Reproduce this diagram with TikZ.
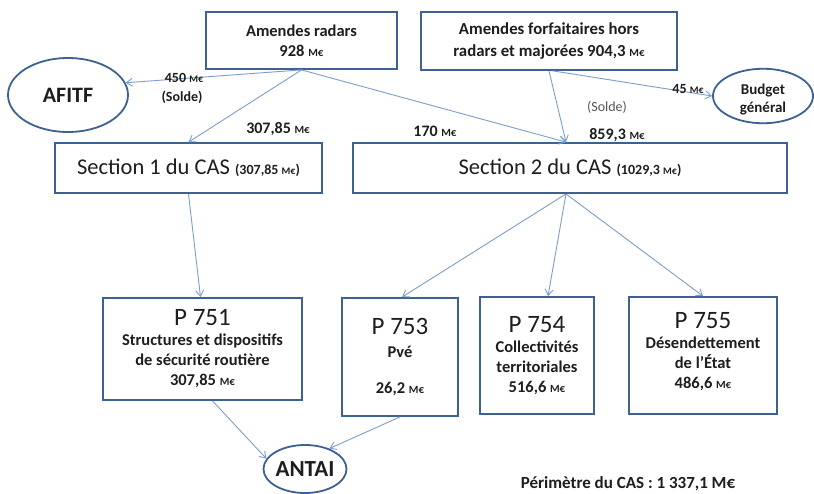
\documentclass[tikz,border=0pt]{standalone}
\usepackage{fontspec}
\setmainfont{Carlito}
\usetikzlibrary{arrows.meta,shapes.geometric,calc}
\definecolor{boxblue}{HTML}{3D6192}
\definecolor{arrblue}{HTML}{7D9DCB}
\definecolor{txt}{HTML}{1E1E1E}
\newcommand{\me}{{\fontsize{11}{12}\selectfont M€}}
\newcommand{\mes}{{\fontsize{10}{11}\selectfont M€}}
\tikzset{
  box/.style={draw=boxblue, line width=1.8pt, rectangle, inner sep=0pt, align=center, text=txt},
  oval/.style={draw=boxblue, line width=1.8pt, ellipse, inner sep=0pt, align=center, text=txt},
  flow/.style={draw=arrblue, line width=0.9pt, -{Straight Barb[length=6pt,width=8pt]}},
  lbl/.style={text=txt, font=\bfseries\fontsize{16}{18}\selectfont, inner sep=0pt},
  slbl/.style={text=txt, font=\bfseries\fontsize{14}{19}\selectfont, inner sep=0pt, align=center},
}
\begin{document}
\begin{tikzpicture}[x=1pt,y=-1pt]
\useasboundingbox[fill=white] (0,0) rectangle (814,493);

\node[box, minimum width=191pt, minimum height=57pt, font=\bfseries\fontsize{16.5}{20}\selectfont] (radars) at (301.5,40.5) {Amendes radars\\928 \me};
\node[box, minimum width=256pt, minimum height=58pt, font=\bfseries\fontsize{16.8}{22}\selectfont] (forf) at (549,41) {Amendes forfaitaires hors\\radars et majorées 904,3 \me};
\node[oval, minimum width=120pt, minimum height=74pt, font=\bfseries\fontsize{22}{24}\selectfont] (afitf) at (68,95) {AFITF};
\node[oval, minimum width=100pt, minimum height=54pt, font=\bfseries\fontsize{15}{18}\selectfont] (budget) at (763,96) {\rule{0pt}{18pt}Budget\\général};

\node[box, minimum width=267pt, minimum height=50pt, font=\fontsize{22.5}{25}\selectfont] (sec1) at (188.5,168) {Section 1 du CAS {\bfseries\fontsize{14}{16}\selectfont(307,85 \mes)}};
\node[box, minimum width=434pt, minimum height=50pt, font=\fontsize{22.5}{25}\selectfont] (sec2) at (570,168) {Section 2 du CAS {\bfseries\fontsize{14}{16}\selectfont(1029,3 \mes)}};

\node[box, minimum width=199pt, minimum height=102pt, font=\bfseries\fontsize{16.5}{20}\selectfont] (p751) at (202.5,349) {{\mdseries\fontsize{25}{24}\selectfont P 751}\\Structures et dispositifs\\de sécurité routière\\307,85 \me};
\node[box, minimum width=116pt, minimum height=118pt, font=\bfseries\fontsize{16.5}{20}\selectfont] (p753) at (400,357) {{\mdseries\fontsize{25}{24}\selectfont P 753}\\[3pt]Pvé\\[16pt]26,2 \me};
\node[box, minimum width=114pt, minimum height=117pt, font=\bfseries\fontsize{16.5}{20}\selectfont] (p754) at (537,355.5) {{\mdseries\fontsize{25}{24}\selectfont P 754}\\Collectivités\\territoriales\\516,6 \me};
\node[box, minimum width=148pt, minimum height=117pt, font=\bfseries\fontsize{16.5}{20}\selectfont] (p755) at (703,355.5) {{\mdseries\fontsize{25}{24}\selectfont P 755}\\Désendettement\\de l’État\\486,6 \me\rule[-11pt]{0pt}{11pt}};

\node[oval, minimum width=76pt, minimum height=48pt, font=\bfseries\fontsize{23}{24}\selectfont] (antai) at (305,469) {ANTAI};

% connectors
\draw[flow] (radars.south) -- (afitf.12);
\draw[flow] (radars.south) -- (sec1.north);
\draw[flow] (radars.south) -- ($(sec2.north)+(-4,0)$);
\draw[flow] (forf.south) -- ($(sec2.north)+(-4,0)$);
\draw[flow] ($(forf.south)+(4,0)$) -- (budget.west);
\draw[flow] (sec1.south) -- ($(p751.north)+(-2,0)$);
\draw[flow] ($(sec2.south)+(-4,0)$) -- ($(p753.north)+(2,0)$);
\draw[flow] ($(sec2.south)+(-4,0)$) -- ($(p754.north)+(11,0)$);
\draw[flow] ($(sec2.south)+(-4,0)$) -- (p755.north);
\draw[flow] ($(p751.south)+(10,0)$) -- (antai.165);
\draw[flow] (p753.south) -- (antai.40);

% labels
\node[slbl] (l450) at (184,78) {450 \mes};
\node[slbl] (lsolde1) at (182,97) {(Solde)};
\node[lbl] (l307) at (278,129) {307,85 \me};
\node[lbl] (l170) at (435,131) {170 \me};
\node[lbl] (l859) at (617,135) {859,3 \me};
\node[text=txt!75, font=\fontsize{14}{16}\selectfont, inner sep=0pt] (lsolde2) at (607,107) {(Solde)};
\node[slbl] (l45) at (688,89) {45 \mes};
\node[lbl, font=\bfseries\fontsize{17}{19}\selectfont] (perim) at (628,484) {Périmètre du CAS : 1 337,1 M€};
\end{tikzpicture}
\end{document}
